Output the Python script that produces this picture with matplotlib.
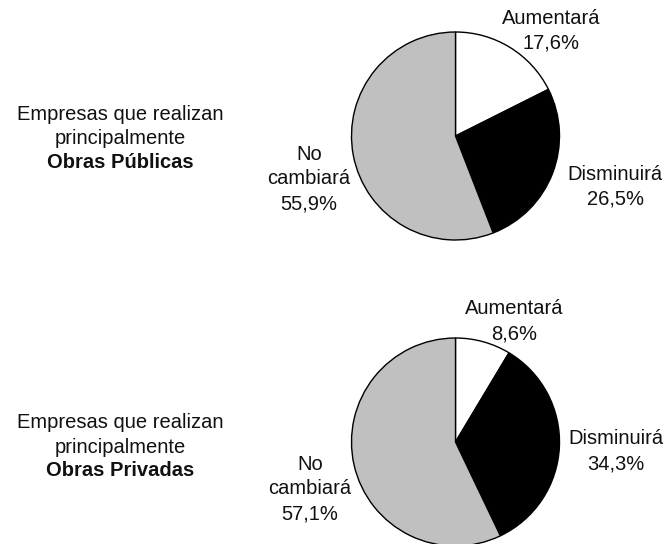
import numpy as np
import matplotlib.pyplot as plt

plt.rcParams['font.family'] = ['Liberation Sans', 'DejaVu Sans']

# data
categorias = ["Aumentará", "Disminuirá", "No\ncambiará"]
publicas = [17.6, 26.5, 55.9]
privadas = [8.6, 34.3, 57.1]
colores = ["white", "black", "#c0c0c0"]
titulos = ["Obras Públicas", "Obras Privadas"]

W, H = 667, 544
fig = plt.figure(figsize=(W / 100, H / 100), dpi=100)
ax = fig.add_axes([0, 0, 1, 1])
ax.set_xlim(0, W)
ax.set_ylim(0, H)
ax.set_aspect('equal')
ax.axis('off')

fs = 14.5
ls = 1.4

def fmt(v):
    return ("%.1f%%" % v).replace(".", ",")

# pixel positions for each block (top to bottom)
bloques = [
    dict(vals=publicas, tit=titulos[0], cy=136, left=(126.5, 162),
         aum=(551, 30.5), dis=(615, 186.5), noc=(309, 179)),
    dict(vals=privadas, tit=titulos[1], cy=442, left=(435, 470),
         aum=(514, 321), dis=(616, 451.5), noc=(310, 489)),
]

for b in bloques:
    ax.pie(b['vals'], colors=colores, startangle=90, counterclock=False,
           center=(455.5, H - b['cy']), radius=104,
           wedgeprops=dict(edgecolor='black', linewidth=1.0))
    # etiquetas de las porciones
    for (x, y), cat, v in zip([b['aum'], b['dis'], b['noc']], categorias, b['vals']):
        ax.text(x, H - y, cat + "\n" + fmt(v), ha='center', va='center',
                fontsize=fs, linespacing=ls, color='#111111')
    # texto a la izquierda
    ax.text(120, H - b['left'][0], "Empresas que realizan\nprincipalmente",
            ha='center', va='center', fontsize=fs, linespacing=ls * 0.97, color='#111111')
    ax.text(120, H - b['left'][1], b['tit'], ha='center', va='center',
            fontsize=fs, fontweight='bold', color='#111111')

ax.set_xlim(0, W)
ax.set_ylim(0, H)
fig.savefig("out.png", dpi=100)
